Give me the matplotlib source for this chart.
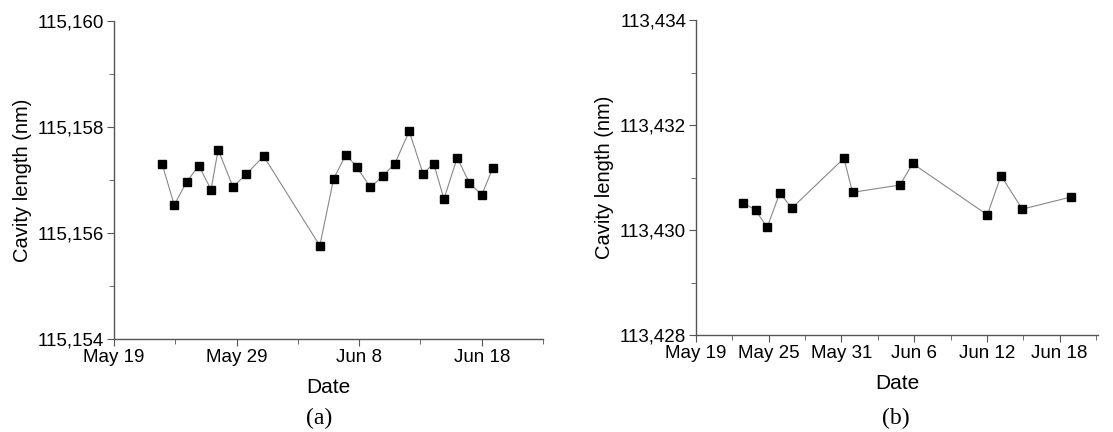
import matplotlib
matplotlib.use("Agg")
import matplotlib.pyplot as plt
import matplotlib.dates as mdates
import matplotlib.ticker as mticker
import pandas as pd

# panel (a)
dates_a = ["2014-05-22 22:00", "2014-05-23 22:00", "2014-05-24 22:00", "2014-05-25 22:00",
           "2014-05-26 22:00", "2014-05-27 12:00", "2014-05-28 17:00", "2014-05-29 19:00",
           "2014-05-31 05:00", "2014-06-04 19:00", "2014-06-05 22:00", "2014-06-06 22:00",
           "2014-06-07 19:00", "2014-06-08 22:00", "2014-06-09 22:00", "2014-06-10 22:00",
           "2014-06-12 02:00", "2014-06-13 05:00", "2014-06-14 02:00", "2014-06-14 22:00",
           "2014-06-16 00:00", "2014-06-17 00:00", "2014-06-18 00:00", "2014-06-18 22:00"]
length_a = [115157.31, 115156.53, 115156.96, 115157.27, 115156.82, 115157.57, 115156.87,
            115157.11, 115157.45, 115155.76, 115157.02, 115157.48, 115157.25, 115156.86,
            115157.07, 115157.31, 115157.92, 115157.12, 115157.31, 115156.64, 115157.42,
            115156.94, 115156.72, 115157.23]
ticks_a = ["2014-05-19", "2014-05-29", "2014-06-08", "2014-06-18"]
minor_a = ["2014-05-24", "2014-06-03", "2014-06-13", "2014-06-23"]

# panel (b)
dates_b = ["2014-05-22 22:00", "2014-05-23 22:00", "2014-05-24 21:00", "2014-05-25 22:00",
           "2014-05-26 22:00", "2014-05-31 05:00", "2014-05-31 22:00", "2014-06-04 20:00",
           "2014-06-05 21:00", "2014-06-12 01:00", "2014-06-13 04:00", "2014-06-14 22:00",
           "2014-06-18 22:00"]
length_b = [113430.52, 113430.38, 113430.05, 113430.71, 113430.42, 113431.37, 113430.72,
            113430.86, 113431.27, 113430.29, 113431.04, 113430.40, 113430.63]
ticks_b = ["2014-05-19", "2014-05-25", "2014-05-31", "2014-06-06", "2014-06-12", "2014-06-18"]
minor_b = ["2014-05-22", "2014-05-28", "2014-06-03", "2014-06-09", "2014-06-15", "2014-06-21"]

plt.rcParams["font.family"] = ["Liberation Sans", "DejaVu Sans"]
axis_color = "#555555"


def style_axes(ax, major, minor):
    for side in ["top", "right"]:
        ax.spines[side].set_visible(False)
    for side in ["left", "bottom"]:
        ax.spines[side].set_color(axis_color)
        ax.spines[side].set_linewidth(1.0)
    ax.tick_params(which="major", direction="out", length=5, pad=2, color=axis_color,
                   labelsize=13.5, labelcolor="black")
    ax.tick_params(which="minor", direction="out", length=3.5, color=axis_color)
    ax.yaxis.set_major_locator(mticker.MultipleLocator(2))
    ax.yaxis.set_minor_locator(mticker.MultipleLocator(1))
    ax.yaxis.set_major_formatter(mticker.StrMethodFormatter("{x:,.0f}"))
    ax.xaxis.set_major_locator(mticker.FixedLocator(mdates.date2num(pd.to_datetime(major))))
    ax.xaxis.set_minor_locator(mticker.FixedLocator(mdates.date2num(pd.to_datetime(minor))))
    ax.xaxis.set_major_formatter(mdates.DateFormatter("%b %-d"))
    ax.set_xlabel("Date", fontsize=15, labelpad=9)
    ax.set_ylabel("Cavity length (nm)", fontsize=14.5, labelpad=4)


fig = plt.figure(figsize=(11.13, 4.32), dpi=100)

ax1 = fig.add_axes([0.1024, 0.2153, 0.3855, 0.7361])
ax1.plot(pd.to_datetime(dates_a), length_a, color="#888888", linewidth=0.8,
         marker="s", markersize=5.5, markerfacecolor="black", markeredgecolor="black")
ax1.set_xlim(pd.Timestamp("2014-05-19"), pd.Timestamp("2014-06-23"))
ax1.set_ylim(115154, 115160)
style_axes(ax1, ticks_a, minor_a)
fig.text(0.287, 0.018, "(a)", family=["Liberation Serif", "DejaVu Serif"], fontsize=17,
         ha="center")

ax2 = fig.add_axes([0.6253, 0.2245, 0.3612, 0.7285])
ax2.plot(pd.to_datetime(dates_b), length_b, color="#888888", linewidth=0.8,
         marker="s", markersize=5.5, markerfacecolor="black", markeredgecolor="black")
ax2.set_xlim(pd.Timestamp("2014-05-19"), pd.Timestamp("2014-06-21 4:00"))
ax2.set_ylim(113428, 113434)
style_axes(ax2, ticks_b, minor_b)
fig.text(0.805, 0.018, "(b)", family=["Liberation Serif", "DejaVu Serif"], fontsize=17,
         ha="center")

fig.savefig("out.png", dpi=100)
